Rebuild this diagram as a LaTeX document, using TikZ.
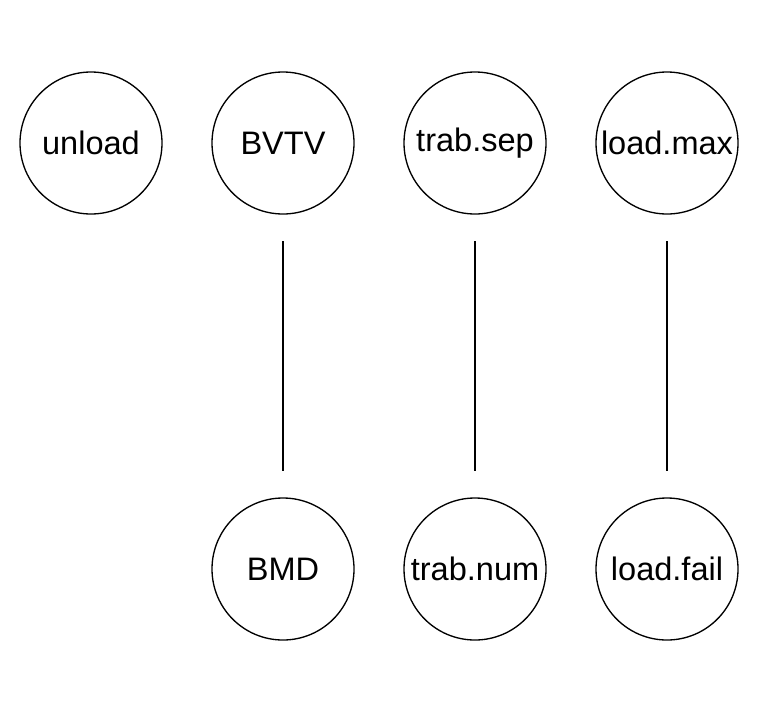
\documentclass[tikz,border=0pt]{standalone}
\usepackage{fontspec}
\setmainfont{Liberation Sans}
\tikzset{var/.style={circle, draw, inner sep=0pt, minimum size=106.5pt, font=\fontsize{24.4pt}{28pt}\selectfont}}

\begin{document}
\begin{tikzpicture}[x=0.75pt, y=-0.75pt, line width=1pt]
\useasboundingbox (0,0) rectangle (759,714);

\node[var] (unload) at (91,143) {unload};
\node[var] (BVTV) at (283,143) {BVTV};
\node[var] (trabsep) at (475,143) {trab.sep};
\node[var] (loadmax) at (667,143) {load.max};
\node[var] (BMD) at (283,569) {BMD};
\node[var] (trabnum) at (475,569) {trab.num};
\node[var] (loadfail) at (667,569) {load.fail};

\foreach \a/\b in {BVTV/BMD, trabsep/trabnum, loadmax/loadfail}{
	\draw[shorten <=20pt, shorten >=20pt] (\a)--(\b);
}
\end{tikzpicture}
\end{document}
